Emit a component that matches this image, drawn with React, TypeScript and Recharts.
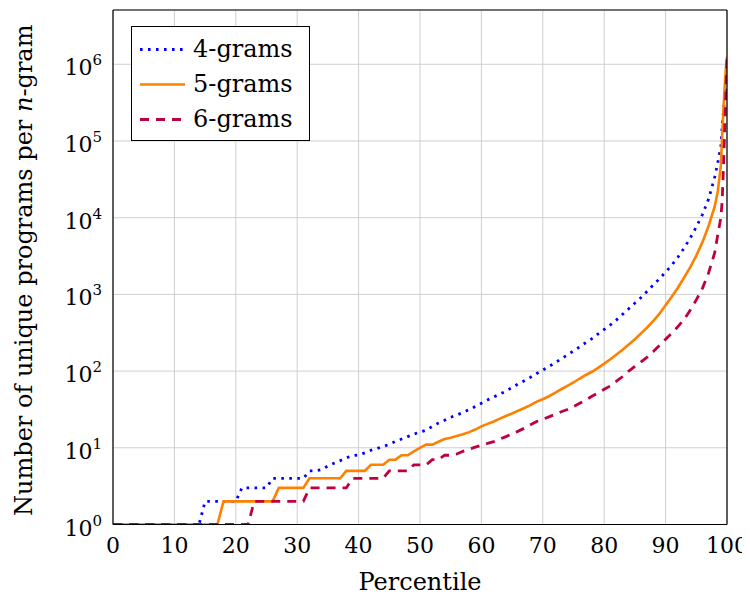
import React from 'react';
import { LineChart, Line, XAxis, YAxis, CartesianGrid, Legend } from 'recharts';

// ---------------- data ----------------
const percentiles = [
  0, 1, 2, 3, 4, 5, 6, 7, 8, 9,
  10, 11, 12, 13, 14, 15, 16, 17, 18, 19,
  20, 21, 22, 23, 24, 25, 26, 27, 28, 29,
  30, 31, 32, 33, 34, 35, 36, 37, 38, 39,
  40, 41, 42, 43, 44, 45, 46, 47, 48, 49,
  50, 51, 52, 53, 54, 55, 56, 57, 58, 59,
  60, 61, 62, 63, 64, 65, 66, 67, 68, 69,
  70, 71, 72, 73, 74, 75, 76, 77, 78, 79,
  80, 81, 82, 83, 84, 85, 86, 87, 88, 89,
  90, 91, 92, 93, 94, 95, 96, 97, 98,
  98.5, 99, 99.2, 99.4, 99.6, 99.8, 100,
];

const grams4 = [
  1, 1, 1, 1, 1, 1, 1, 1, 1, 1,
  1, 1, 1, 1, 1, 2, 2, 2, 2, 2,
  2, 3, 3, 3, 3, 3, 4, 4, 4, 4,
  4, 4, 5, 5, 5.2, 5.8, 6.3, 6.8, 7.4, 7.9,
  8.1, 8.6, 9.3, 9.8, 10.4, 11.1, 12.1, 13, 14, 15.1,
  16, 17, 19, 21, 22.8, 25, 26.8, 28.8, 31.5, 34.5,
  38, 42, 46, 50, 55, 61, 68, 75, 83, 93,
  103, 115, 128, 145, 162, 183, 207, 235, 265, 305,
  350, 400, 465, 550, 650, 770, 910, 1100, 1330, 1600,
  1950, 2400, 3050, 4000, 5400, 7600, 11000, 17500, 34000,
  52000, 85000, 150000, 230000, 350000, 520000, 750000,
];

const grams5 = [
  1, 1, 1, 1, 1, 1, 1, 1, 1, 1,
  1, 1, 1, 1, 1, 1, 1, 1, 2, 2,
  2, 2, 2, 2, 2, 2, 2, 3, 3, 3,
  3, 3, 4, 4, 4, 4, 4, 4, 5, 5,
  5, 5, 6, 6, 6, 7, 7, 8, 8, 9,
  10, 11, 11, 12, 13, 13.5, 14.3, 15, 16, 17.3,
  19, 20.5, 22, 24, 26, 28, 30.5, 33, 36, 40,
  43, 47, 52, 58, 64, 71, 80, 89, 98, 110,
  125, 143, 165, 190, 222, 260, 310, 370, 450, 560,
  720, 930, 1220, 1650, 2250, 3200, 4800, 7800, 14000,
  22000, 48000, 110000, 240000, 470000, 850000, 1250000,
];

const grams6 = [
  1, 1, 1, 1, 1, 1, 1, 1, 1, 1,
  1, 1, 1, 1, 1, 1, 1, 1, 1, 1,
  1, 1, 1, 2, 2, 2, 2, 2, 2, 2,
  2, 2, 3, 3, 3, 3, 3, 3, 3, 4,
  4, 4, 4, 4, 4, 5, 5, 5, 5, 6,
  6, 6, 7, 7, 8, 8, 8.3, 9, 9.6, 10.2,
  10.8, 11.4, 12, 13, 14, 15.2, 16.5, 18, 20, 22,
  23.5, 25.3, 27.3, 29.5, 31.5, 34.5, 38, 42, 47, 52,
  58, 64, 74, 85, 100, 115, 132, 152, 180, 215,
  260, 310, 380, 470, 620, 850, 1200, 1900, 3500,
  6000, 10000, 16000, 40000, 120000, 400000, 1150000,
];

const xTicks = [0, 10, 20, 30, 40, 50, 60, 70, 80, 90, 100];
const yTicks = [1, 10, 100, 1000, 10000, 100000, 1000000];
const yMinorTicks = [
  2, 3, 4, 5, 6, 7, 8, 9,
  20, 30, 40, 50, 60, 70, 80, 90,
  200, 300, 400, 500, 600, 700, 800, 900,
  2000, 3000, 4000, 5000, 6000, 7000, 8000, 9000,
  20000, 30000, 40000, 50000, 60000, 70000, 80000, 90000,
  200000, 300000, 400000, 500000, 600000, 700000, 800000, 900000,
  2000000, 3000000, 4000000, 5000000,
];
const yDomain = [1, 5100000];

const seriesNames = ['4-grams', '5-grams', '6-grams'];

// ------------- styles -------------
const FONT = '"DejaVu Serif", serif';
const FS = 24;
const TFS = 22;
const TICK_GRAY = '#7a7a7a';

const seriesStyle = [
  { key: 'g4', color: '#0000ff', width: 2.8, dash: '2.6 5.4' },
  { key: 'g5', color: '#ff8000', width: 2.6, dash: undefined as string | undefined },
  { key: 'g6', color: '#bf0040', width: 2.8, dash: '9 7' },
];

const data = percentiles.map((p, i) => ({ p, g4: grams4[i], g5: grams5[i], g6: grams6[i] }));

const XTick = (props: any) => {
  const { x, y, payload } = props;
  return (
    <text x={x} y={y + 28} textAnchor="middle" fontFamily={FONT} fontSize={TFS} fill="#000">
      {payload.value}
    </text>
  );
};

const YTick = (props: any) => {
  const { x, y, payload } = props;
  const exp = Math.round(Math.log10(payload.value));
  return (
    <text x={x - 11} y={y + 11} textAnchor="end" fontFamily={FONT} fontSize={TFS} fill="#000">
      10
      <tspan dy={-10} fontSize={15}>
        {exp}
      </tspan>
    </text>
  );
};

const XLabel = (props: any) => {
  const vb = props.viewBox || { x: 0, y: 0, width: 0 };
  return (
    <text x={vb.x + vb.width / 2} y={vb.y + 65.5} textAnchor="middle" fontFamily={FONT} fontSize={FS} fill="#000">
      Percentile
    </text>
  );
};

const YLabel = (props: any) => {
  const vb = props.viewBox || { x: 0, y: 0, height: 0 };
  const cx = vb.x + 24;
  const cy = vb.y + vb.height / 2 + 3;
  return (
    <text
      x={cx}
      y={cy}
      transform={`rotate(-90, ${cx}, ${cy})`}
      textAnchor="middle"
      fontFamily={FONT}
      fontSize={FS}
      fill="#000"
    >
      Number of unique programs per <tspan fontStyle="italic">n</tspan>-gram
    </text>
  );
};

const LegendBox = () => (
  <div
    style={{
      boxSizing: 'border-box',
      width: 179,
      height: 115,
      border: '1px solid #000',
      background: '#fff',
      paddingTop: 5,
      fontFamily: FONT,
      fontSize: FS,
      color: '#000',
    }}
  >
    {seriesStyle.map((s, i) => (
      <div key={s.key} style={{ display: 'flex', alignItems: 'center', height: 35 }}>
        <svg width={61} height={35} style={{ display: 'block' }}>
          <line
            x1={8}
            x2={53}
            y1={17.5}
            y2={17.5}
            stroke={s.color}
            strokeWidth={s.width}
            strokeDasharray={s.dash}
          />
        </svg>
        <span style={{ lineHeight: '35px', whiteSpace: 'nowrap' }}>{seriesNames[i]}</span>
      </div>
    ))}
  </div>
);

export default function App() {
  return (
    <LineChart width={742} height={588} data={data} margin={{ top: 2, right: 23, bottom: 11.5, left: 0 }}>
      <CartesianGrid xAxisId="x" yAxisId="y" stroke="#cfcfcf" strokeWidth={1} />
      <XAxis
        xAxisId="x"
        dataKey="p"
        type="number"
        domain={[0, 100]}
        ticks={xTicks}
        interval={0}
        allowDataOverflow
        tick={<XTick />}
        tickLine={false}
        tickSize={0}
        tickMargin={0}
        height={60}
        axisLine={{ stroke: '#000', strokeWidth: 1.2 }}
        label={<XLabel />}
      />
      <XAxis
        xAxisId="xb"
        dataKey="p"
        type="number"
        domain={[0, 100]}
        ticks={xTicks}
        interval={0}
        allowDataOverflow
        orientation="bottom"
        mirror
        height={0.01}
        tick={false}
        tickSize={7}
        tickLine={{ stroke: TICK_GRAY, strokeWidth: 1 }}
        axisLine={false}
      />
      <XAxis
        xAxisId="xt"
        dataKey="p"
        type="number"
        domain={[0, 100]}
        ticks={xTicks}
        interval={0}
        allowDataOverflow
        orientation="top"
        mirror
        height={0.01}
        tick={false}
        tickSize={7}
        tickLine={{ stroke: TICK_GRAY, strokeWidth: 1 }}
        axisLine={{ stroke: '#000', strokeWidth: 1.2 }}
      />
      <YAxis
        yAxisId="y"
        scale="log"
        type="number"
        domain={yDomain}
        ticks={yTicks}
        interval={0}
        allowDataOverflow
        width={105}
        tick={<YTick />}
        tickLine={false}
        tickSize={0}
        tickMargin={0}
        axisLine={{ stroke: '#000', strokeWidth: 1.2 }}
        label={<YLabel />}
      />
      <YAxis
        yAxisId="yl"
        scale="log"
        type="number"
        domain={yDomain}
        ticks={yTicks}
        interval={0}
        allowDataOverflow
        orientation="left"
        mirror
        width={0.01}
        tick={false}
        tickSize={8}
        tickLine={{ stroke: TICK_GRAY, strokeWidth: 1 }}
        axisLine={false}
      />
      <YAxis
        yAxisId="ylm"
        scale="log"
        type="number"
        domain={yDomain}
        ticks={yMinorTicks}
        interval={0}
        allowDataOverflow
        orientation="left"
        mirror
        width={0.01}
        tick={false}
        tickSize={5}
        tickLine={{ stroke: TICK_GRAY, strokeWidth: 1 }}
        axisLine={false}
      />
      <YAxis
        yAxisId="yr"
        scale="log"
        type="number"
        domain={yDomain}
        ticks={yTicks}
        interval={0}
        allowDataOverflow
        orientation="right"
        mirror
        width={0.01}
        tick={false}
        tickSize={8}
        tickLine={{ stroke: TICK_GRAY, strokeWidth: 1 }}
        axisLine={{ stroke: '#000', strokeWidth: 1.2 }}
      />
      <YAxis
        yAxisId="yrm"
        scale="log"
        type="number"
        domain={yDomain}
        ticks={yMinorTicks}
        interval={0}
        allowDataOverflow
        orientation="right"
        mirror
        width={0.01}
        tick={false}
        tickSize={5}
        tickLine={{ stroke: TICK_GRAY, strokeWidth: 1 }}
        axisLine={false}
      />
      {seriesStyle.map((s, i) => (
        <Line
          key={s.key}
          xAxisId="x"
          yAxisId="y"
          type="linear"
          dataKey={s.key}
          name={seriesNames[i]}
          stroke={s.color}
          strokeWidth={s.width}
          strokeDasharray={s.dash}
          dot={false}
          activeDot={false}
          isAnimationActive={false}
        />
      ))}
      <Legend
        layout="horizontal"
        verticalAlign="middle"
        align="center"
        wrapperStyle={{ left: 123, top: 18, width: 179, height: 115 }}
        content={() => <LegendBox />}
      />
    </LineChart>
  );
}
